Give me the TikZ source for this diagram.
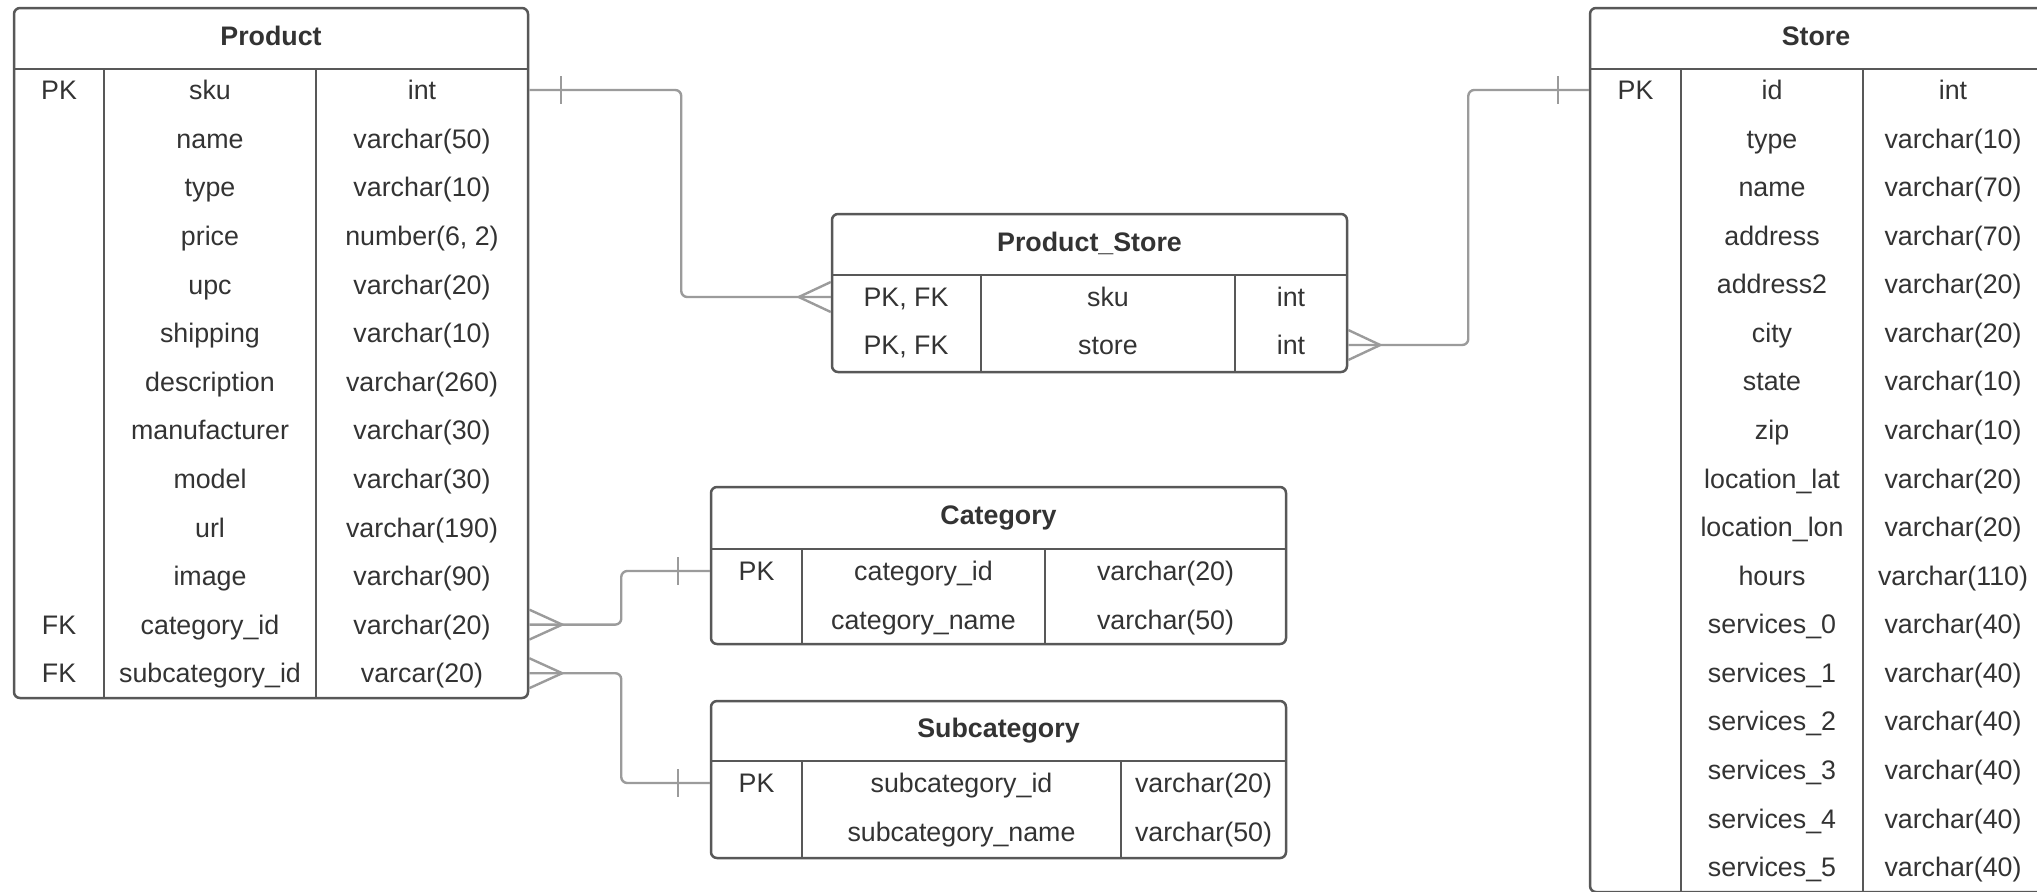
\documentclass[tikz,border=0pt]{standalone}
\usepackage{fontspec}
\setmainfont{Liberation Sans}
\usetikzlibrary{fit,calc}
\definecolor{tblborder}{RGB}{88,88,88}
\definecolor{connc}{RGB}{155,155,155}
\definecolor{txt}{RGB}{51,51,51}
\newcommand\trow[8]{%
  \ifx\relax#6\relax\else\node[cell] (#1k) at (#3,#2) {#6};\fi
  \node[cell] (#1n) at (#4,#2) {#7};
  \node[cell] (#1t) at (#5,#2) {#8};}
\begin{document}
\begin{tikzpicture}[x=0.5pt,y=-0.5pt,
  tbl/.style={draw=tblborder, line width=1.25pt, rounded corners=3pt, inner sep=0pt},
  tline/.style={draw=tblborder, line width=1.2pt},
  cell/.style={inner sep=0pt, text=txt, font=\fontsize{13.4}{16}\selectfont, text height=9.6pt, text depth=0pt},
  ttl/.style={cell, font=\fontsize{13.4}{16}\selectfont\bfseries},
  conn/.style={draw=connc, line width=1.2pt},
]
\useasboundingbox (0,0) rectangle (2037,891);

% ---------------- Product ----------------
\node[tbl, fit={(14,8) (528,698)}] (product) {};
\draw[tline] (14,69) -- (528,69);
\draw[tline] (104,69) -- (104,698);
\draw[tline] (316,69) -- (316,698);
\node[ttl] (product-title) at (271,35.5) {Product};
\trow{p1}{90}{59}{210}{422}{PK}{sku}{int}
\trow{p2}{138.6}{59}{210}{422}{}{name}{varchar(50)}
\trow{p3}{187.2}{59}{210}{422}{}{type}{varchar(10)}
\trow{p4}{235.8}{59}{210}{422}{}{price}{number(6, 2)}
\trow{p5}{284.4}{59}{210}{422}{}{upc}{varchar(20)}
\trow{p6}{333}{59}{210}{422}{}{shipping}{varchar(10)}
\trow{p7}{381.6}{59}{210}{422}{}{description}{varchar(260)}
\trow{p8}{430.2}{59}{210}{422}{}{manufacturer}{varchar(30)}
\trow{p9}{478.8}{59}{210}{422}{}{model}{varchar(30)}
\trow{p10}{527.4}{59}{210}{422}{}{url}{varchar(190)}
\trow{p11}{576}{59}{210}{422}{}{image}{varchar(90)}
\trow{p12}{624.6}{59}{210}{422}{FK}{category\_id}{varchar(20)}
\trow{p13}{673.2}{59}{210}{422}{FK}{subcategory\_id}{varcar(20)}

% ---------------- Store ----------------
\node[tbl, fit={(1590,8) (2043,892)}] (store) {};
\draw[tline] (1590,69) -- (2043,69);
\draw[tline] (1681,69) -- (1681,892);
\draw[tline] (1863,69) -- (1863,892);
\node[ttl] (store-title) at (1816,35.5) {Store};
\trow{s1}{90}{1635.5}{1772}{1953}{PK}{id}{int}
\trow{s2}{138.56}{1635.5}{1772}{1953}{}{type}{varchar(10)}
\trow{s3}{187.12}{1635.5}{1772}{1953}{}{name}{varchar(70)}
\trow{s4}{235.68}{1635.5}{1772}{1953}{}{address}{varchar(70)}
\trow{s5}{284.24}{1635.5}{1772}{1953}{}{address2}{varchar(20)}
\trow{s6}{332.8}{1635.5}{1772}{1953}{}{city}{varchar(20)}
\trow{s7}{381.36}{1635.5}{1772}{1953}{}{state}{varchar(10)}
\trow{s8}{429.92}{1635.5}{1772}{1953}{}{zip}{varchar(10)}
\trow{s9}{478.48}{1635.5}{1772}{1953}{}{location\_lat}{varchar(20)}
\trow{s10}{527.04}{1635.5}{1772}{1953}{}{location\_lon}{varchar(20)}
\trow{s11}{575.6}{1635.5}{1772}{1953}{}{hours}{varchar(110)}
\trow{s12}{624.16}{1635.5}{1772}{1953}{}{services\_0}{varchar(40)}
\trow{s13}{672.72}{1635.5}{1772}{1953}{}{services\_1}{varchar(40)}
\trow{s14}{721.28}{1635.5}{1772}{1953}{}{services\_2}{varchar(40)}
\trow{s15}{769.84}{1635.5}{1772}{1953}{}{services\_3}{varchar(40)}
\trow{s16}{818.4}{1635.5}{1772}{1953}{}{services\_4}{varchar(40)}
\trow{s17}{866.96}{1635.5}{1772}{1953}{}{services\_5}{varchar(40)}

% ---------------- Product_Store ----------------
\node[tbl, fit={(832,214) (1347,372)}] (ps) {};
\draw[tline] (832,275) -- (1347,275);
\draw[tline] (981,275) -- (981,372);
\draw[tline] (1235,275) -- (1235,372);
\node[ttl] (ps-title) at (1089.5,241.5) {Product\_Store};
\trow{ps1}{297}{906}{1108}{1291}{PK, FK}{sku}{int}
\trow{ps2}{345}{906}{1108}{1291}{PK, FK}{store}{int}

% ---------------- Category ----------------
\node[tbl, fit={(711,487) (1286,644)}] (cat) {};
\draw[tline] (711,549) -- (1286,549);
\draw[tline] (802,549) -- (802,644);
\draw[tline] (1045,549) -- (1045,644);
\node[ttl] (cat-title) at (998.5,515) {Category};
\trow{c1}{571}{756.5}{923.5}{1165.5}{PK}{category\_id}{varchar(20)}
\trow{c2}{619.5}{756.5}{923.5}{1165.5}{}{category\_name}{varchar(50)}

% ---------------- Subcategory ----------------
\node[tbl, fit={(711,701) (1286,858)}] (sub) {};
\draw[tline] (711,761) -- (1286,761);
\draw[tline] (802,761) -- (802,858);
\draw[tline] (1121,761) -- (1121,858);
\node[ttl] (sub-title) at (998.5,728) {Subcategory};
\trow{sb1}{783}{756.5}{961.5}{1203.5}{PK}{subcategory\_id}{varchar(20)}
\trow{sb2}{832}{756.5}{961.5}{1203.5}{}{subcategory\_name}{varchar(50)}

% ---------------- Connectors ----------------
\coordinate (B) at (product.east |- p1t);
\coordinate (A) at (ps.west |- ps1k);
\coordinate (C) at (ps.east |- ps2t);
\coordinate (D) at (store.west |- s1k);
\coordinate (E) at (product.east |- p12t);
\coordinate (F) at (cat.west |- c1k);
\coordinate (G) at (product.east |- p13t);
\coordinate (H) at (sub.west |- sb1k);

\draw[conn, rounded corners=3pt] (B) -- ++(152,0) |- (A);
\draw[conn, rounded corners=3pt] (C) -- ++(120,0) |- (D);
\draw[conn, rounded corners=3pt] (E) -- ++(92,0) |- (F);
\draw[conn, rounded corners=3pt] (G) -- ++(92,0) |- (H);

% one-bars
\draw[conn] ($(B)+(32,-14)$) -- ($(B)+(32,14)$);
\draw[conn] ($(D)+(-31,-14)$) -- ($(D)+(-31,14)$);
\draw[conn] ($(F)+(-32,-14)$) -- ($(F)+(-32,14)$);
\draw[conn] ($(H)+(-32,-14)$) -- ($(H)+(-32,14)$);

% crow's feet
\draw[conn] ($(A)+(0,-15)$) -- ($(A)+(-32,0)$) -- ($(A)+(0,15)$);
\draw[conn] ($(C)+(0,-15)$) -- ($(C)+(32,0)$) -- ($(C)+(0,15)$);
\draw[conn] ($(E)+(0,-15)$) -- ($(E)+(33,0)$) -- ($(E)+(0,15)$);
\draw[conn] ($(G)+(0,-15)$) -- ($(G)+(33,0)$) -- ($(G)+(0,15)$);
\end{tikzpicture}
\end{document}
